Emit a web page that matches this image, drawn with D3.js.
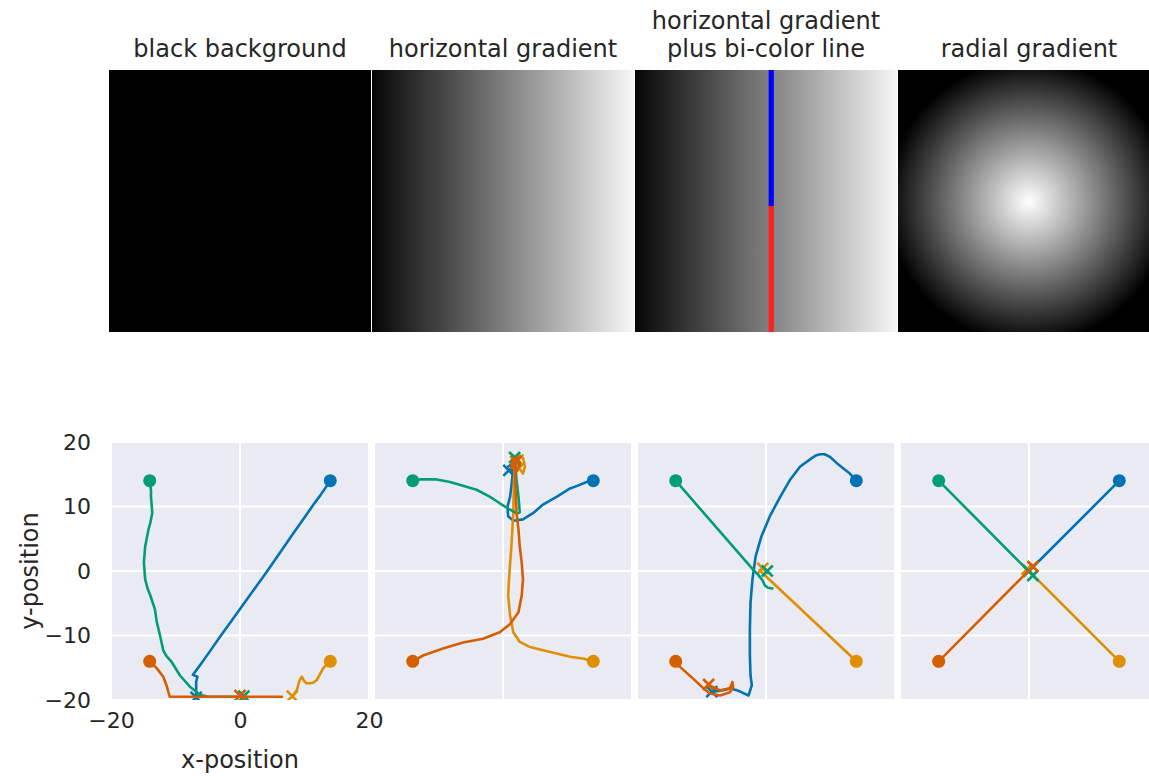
<!DOCTYPE html>
<html>
<head>
<meta charset="utf-8">
<script src="https://cdn.jsdelivr.net/npm/d3@7"></script>
<style>
  body { margin: 0; background: #fff; }
  text { font-family: "DejaVu Sans", sans-serif; fill: #262626; }
</style>
</head>
<body>
<svg id="fig" width="1149" height="776"></svg>
<script>
// ---- data ----------------------------------------------------------------
const panelTitles = ["black background", "horizontal gradient",
                     "horizontal gradient\nplus bi-color line", "radial gradient"];
const agentColors = ["#0173b2", "#de8f05", "#029e73", "#d55e00"]; // blue, orange, green, red
const yTicks = [-20, -10, 0, 10, 20];
const xTicks = [-20, 0, 20];

// bi-colour line in the third image (image grid of 100 x 100 cells)
const lineColumns = [51, 53];
const lineSplitRow = 52;
const lineColors = ["#0000ff", "#ff1f1f"];

// trajectories per panel, agent order: blue, orange, green, red
const trajBlack = [
  [[14,14],[12.5,11.8],[11.4,10.3],[10,8.3],[8.3,5.9],[6.3,3],[4.1,-0.2],[2,-3.1],[0,-5.9],[-1.5,-8],[-3.1,-10.2],[-4.7,-12.5],[-6.2,-14.6],[-7.3,-16.1],[-6.6,-16.4],[-6.8,-17.2],[-6.8,-19.5]],
  [[14,-14],[13.4,-14.5],[12.9,-15.1],[12.4,-16],[11.9,-16.9],[11.4,-17.3],[10.9,-17.4],[10.3,-17.4],[9.9,-17],[9.6,-16.4],[9.3,-16.8],[9.1,-17.4],[8.8,-18.5],[8.3,-19.2],[8.1,-19.5]],
  [[-14,14],[-13.8,12.5],[-13.8,11.5],[-13.6,9],[-13.9,7.5],[-14.2,6.4],[-14.7,3.8],[-14.9,1.3],[-14.7,-1.3],[-14.3,-2.8],[-13.9,-3.8],[-13.2,-5.9],[-12.9,-7.9],[-12.4,-10],[-11.9,-12.3],[-11.4,-13.2],[-10.6,-14.1],[-9.3,-16.2],[-7.8,-17.9],[-6.2,-19.2],[-5,-19.5],[0.5,-19.5]],
  [[-14,-14],[-12.9,-15.1],[-11.9,-16.4],[-11.4,-17.7],[-10.9,-19.5],[6.5,-19.5],[0,-19.5]]
];
const endsBlack = [[-6.8,-19.6],[8.1,-19.4],[0.6,-19.4],[0,-19.3]];

const trajGradient = [
  [[14,14],[13.2,13.9],[12.5,13.6],[11.5,13.2],[10.4,12.8],[8.3,11.5],[6.2,10.3],[4.7,9],[3.1,8],[1.6,7.8],[0.8,8.5],[0.7,10],[1.1,11.5],[1.3,13.1],[1.5,15.1],[1.3,16.5],[0.8,16.2]],
  [[14,-14],[12.5,-13.6],[10.4,-13.3],[8.3,-12.8],[6.2,-12.3],[4.2,-11.8],[2.6,-11],[1.6,-9.5],[1.1,-6.9],[0.8,-3.8],[1,-0.2],[1.3,3.8],[1.6,9],[1.7,14.1],[1.9,16.7],[2.4,18],[3.1,17.5],[3.4,16.2],[3.1,15.1],[2.6,15.8],[2.3,17]],
  [[-14,14],[-12.9,14.2],[-10.3,14.2],[-8.2,13.8],[-6.2,13.2],[-4.1,12.6],[-2,11.5],[-0.5,10.5],[1.1,9.5],[2.2,8.9],[2.6,9.1],[2.4,11.5],[2.1,14.1],[1.9,16.7],[1.7,17.6]],
  [[-14,-14],[-12.4,-13.1],[-9.3,-12],[-6.2,-11.1],[-3.1,-10.5],[-0.5,-9.5],[1.1,-8.2],[2.4,-6.4],[2.9,-3.8],[3.1,-1.3],[2.9,1.3],[2.6,3.8],[2.4,6.4],[2.1,9],[2,11.5],[1.9,14.1],[1.9,16.7],[2.2,17.6],[1.5,17.2],[1.3,16],[2.2,15.5],[2.6,16.8],[2,17.2]]
];
const endsGradient = [[0.9,15.6],[2.3,17.2],[1.8,17.6],[2,17]];

const trajBicolor = [
  [[14,14],[13,15.1],[12,15.9],[10.9,16.8],[9.9,17.7],[9.1,18.1],[8.4,18.1],[7.7,17.9],[7.1,17.5],[5.3,16.2],[3.7,14.1],[2.2,11.5],[0.6,8.5],[-0.7,5.4],[-1.6,2.3],[-2.1,-1.3],[-2.4,-4.9],[-2.5,-9],[-2.5,-13.1],[-2.4,-16.2],[-2.2,-17.7],[-2.7,-19.3],[-4,-18.7],[-4.5,-18.5],[-5.6,-18.2],[-6.6,-18.5],[-8.2,-18.7]],
  [[14,-14],[-1,0.1],[-0.4,0.5]],
  [[-14,14],[-2,0.2],[-1.2,-0.6],[-0.5,-1.5],[-0.2,-2.2],[0.3,-2.6],[1,-2.7]],
  [[-14,-14],[-13.3,-14.9],[-11.5,-16.5],[-9.7,-18.2],[-8.7,-19],[-7.1,-19.3],[-5.6,-18.8],[-5.1,-18],[-5.2,-17.2],[-5.6,-18.2],[-7.1,-18.5],[-8.4,-17.9],[-8.9,-17.7]]
];
const endsBicolor = [[-8.4,-18.7],[-0.5,0.4],[0.2,0],[-8.9,-17.6]];

const trajRadial = [
  [[14,14],[0,0]],
  [[14,-14],[-0.3,0.3]],
  [[-14,14],[0.6,-0.7]],
  [[-14,-14],[0.6,0.7]]
];
const endsRadial = [[0,0],[-0.3,0.3],[0.6,-0.7],[0.6,0.7]];

const panelTrajectories = [trajBlack, trajGradient, trajBicolor, trajRadial];
const panelEnds = [endsBlack, endsGradient, endsBicolor, endsRadial];

// ---- layout --------------------------------------------------------------
const svg = d3.select("#fig");
const defs = svg.append("defs");
const imgSize = 262, imgTop = 70, imgLeft0 = 109, step = 263;
const axSize = 258, axTop = 442, axLeft0 = 111;

// horizontal grey ramp
const hg = defs.append("linearGradient").attr("id", "hgrad")
  .attr("x1", 0).attr("x2", 1).attr("y1", 0).attr("y2", 0);
hg.append("stop").attr("offset", 0).attr("stop-color", "#050505");
hg.append("stop").attr("offset", 1).attr("stop-color", "#f7f7f7");

// ---- image row -----------------------------------------------------------
panelTitles.forEach((title, i) => {
  const x0 = imgLeft0 + i * step;
  const g = svg.append("g");
  const clipId = "imgclip" + i;
  defs.append("clipPath").attr("id", clipId)
    .append("rect").attr("x", x0).attr("y", imgTop).attr("width", imgSize).attr("height", imgSize);
  const body = g.append("g").attr("clip-path", `url(#${clipId})`);

  if (i === 0) {
    body.append("rect").attr("x", x0).attr("y", imgTop).attr("width", imgSize).attr("height", imgSize).attr("fill", "#000");
  } else if (i === 1 || i === 2) {
    body.append("rect").attr("x", x0).attr("y", imgTop).attr("width", imgSize).attr("height", imgSize).attr("fill", "url(#hgrad)");
  } else {
    const cx = x0 + imgSize / 2, cy = imgTop + imgSize / 2 + 0.5;
    const rg = defs.append("radialGradient").attr("id", "rgrad")
      .attr("gradientUnits", "userSpaceOnUse")
      .attr("cx", cx).attr("cy", cy).attr("r", 142);
    rg.append("stop").attr("offset", 0).attr("stop-color", "#ffffff");
    rg.append("stop").attr("offset", 1).attr("stop-color", "#000000");
    body.append("rect").attr("x", x0).attr("y", imgTop).attr("width", imgSize).attr("height", imgSize).attr("fill", "url(#rgrad)");
  }

  if (i === 2) {
    const col = d3.scaleLinear().domain([0, 100]).range([x0, x0 + imgSize]);
    const row = d3.scaleLinear().domain([0, 100]).range([imgTop, imgTop + imgSize]);
    const segs = [[0, lineSplitRow], [lineSplitRow, 100]];
    body.selectAll("rect.bicolor").data(segs).join("rect")
      .attr("class", "bicolor")
      .attr("x", col(lineColumns[0]))
      .attr("width", col(lineColumns[1]) - col(lineColumns[0]))
      .attr("y", d => row(d[0]))
      .attr("height", d => row(d[1]) - row(d[0]))
      .attr("fill", (d, k) => lineColors[k]);
  }

  const lines = title.split("\n");
  const t = g.append("text").attr("text-anchor", "middle").attr("font-size", 24);
  lines.forEach((ln, k) => {
    t.append("tspan").attr("x", x0 + imgSize / 2)
      .attr("y", 57 - (lines.length - 1 - k) * 28).text(ln);
  });
});

// ---- trajectory row ------------------------------------------------------
panelTrajectories.forEach((trajs, i) => {
  const left = axLeft0 + i * step;
  const x = d3.scaleLinear().domain([-20, 20]).range([left, left + axSize]);
  const y = d3.scaleLinear().domain([-20, 20]).range([axTop + axSize, axTop]);
  const g = svg.append("g");
  const clipId = "axclip" + i;
  defs.append("clipPath").attr("id", clipId)
    .append("rect").attr("x", left).attr("y", axTop).attr("width", axSize).attr("height", axSize);

  g.append("rect").attr("x", left).attr("y", axTop).attr("width", axSize).attr("height", axSize).attr("fill", "#eaeaf2");

  const grid = g.append("g").attr("clip-path", `url(#${clipId})`);
  grid.selectAll("line.gx").data(xTicks).join("line")
    .attr("class", "gx")
    .attr("x1", d => x(d)).attr("x2", d => x(d)).attr("y1", axTop).attr("y2", axTop + axSize)
    .attr("stroke", "#fff").attr("stroke-width", 2);
  grid.selectAll("line.gy").data(yTicks).join("line")
    .attr("class", "gy")
    .attr("y1", d => y(d)).attr("y2", d => y(d)).attr("x1", left).attr("x2", left + axSize)
    .attr("stroke", "#fff").attr("stroke-width", 2);

  const plot = g.append("g").attr("clip-path", `url(#${clipId})`);
  const lineGen = d3.line().x(d => x(d[0])).y(d => y(d[1])).curve(d3.curveLinear);
  const ends = panelEnds[i];
  trajs.forEach((pts, a) => {
    const c = agentColors[a];
    plot.append("path").attr("d", lineGen(pts)).attr("fill", "none")
      .attr("stroke", c).attr("stroke-width", 2.6)
      .attr("stroke-linejoin", "round").attr("stroke-linecap", "round");
    plot.append("circle").attr("cx", x(pts[0][0])).attr("cy", y(pts[0][1]))
      .attr("r", 6.5).attr("fill", c);
    const ex = x(ends[a][0]), ey = y(ends[a][1]), s = 5.5;
    plot.append("path")
      .attr("d", `M${ex - s},${ey - s}L${ex + s},${ey + s}M${ex - s},${ey + s}L${ex + s},${ey - s}`)
      .attr("stroke", c).attr("stroke-width", 2.6).attr("fill", "none");
  });

  if (i === 0) {
    const ya = g.append("g").attr("transform", `translate(${left},0)`)
      .call(d3.axisLeft(y).tickValues(yTicks).tickSize(0).tickPadding(20));
    ya.select(".domain").remove();
    ya.selectAll("text").attr("font-size", 22).attr("fill", "#262626")
      .style("font-family", "DejaVu Sans, sans-serif");
    const xa = g.append("g").attr("transform", `translate(0,${axTop + axSize})`)
      .call(d3.axisBottom(x).tickValues(xTicks).tickSize(0).tickPadding(12));
    xa.select(".domain").remove();
    xa.selectAll("text").attr("font-size", 22).attr("fill", "#262626")
      .style("font-family", "DejaVu Sans, sans-serif");

    g.append("text").attr("x", left + axSize / 2).attr("y", 768)
      .attr("text-anchor", "middle").attr("font-size", 24).text("x-position");
    g.append("text").attr("transform", `translate(38,${axTop + axSize / 2}) rotate(-90)`)
      .attr("text-anchor", "middle").attr("font-size", 24).text("y-position");
  }
});
</script>
</body>
</html>
